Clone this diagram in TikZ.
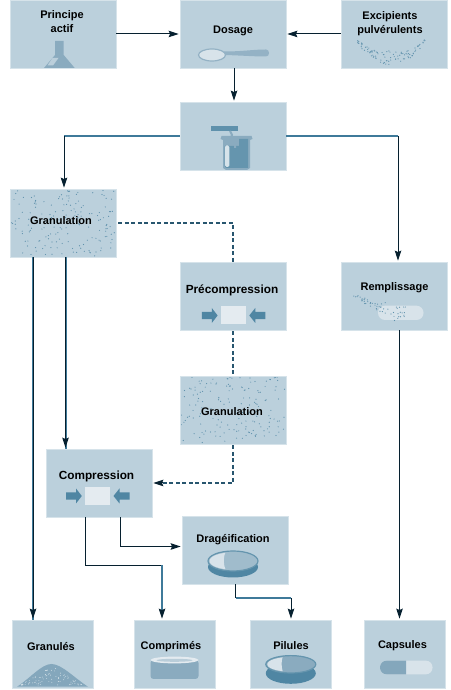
\documentclass[tikz,border=0pt]{standalone}
\usepackage{fontspec}
\setmainfont{Liberation Sans}
\usepackage{xcolor}
\usepackage{tikz}
\usetikzlibrary{arrows.meta, positioning}
\definecolor{boxfill}{HTML}{BBD0DC}
\definecolor{boxedge}{HTML}{D6E3EA}
\definecolor{steel}{HTML}{8AABBF}
\definecolor{steeldark}{HTML}{4F86A3}
\definecolor{pipeblue}{HTML}{3F7A9A}
\definecolor{pale}{HTML}{D8E3EA}
\definecolor{inkdark}{HTML}{06202F}
\newcommand{\lift}[3]{\smash{\raisebox{#2}{\makebox[0pt]{\hspace*{#1}\hspace*{#1}\begin{tabular}{@{}c@{}}#3\end{tabular}}}}}
\newcommand{\widetext}{\fontsize{11.8}{14}\selectfont}
\newcommand{\pressicon}[3]{
  \begin{scope}[shift={(#1.center)}, shift={(#2,#3)}]
    \fill[pale!70!white] (-12.5,-9) rectangle (12.5,9);
    \fill[steeldark] (-31.5,-3.7) -- (-21.5,-3.7) -- (-21.5,-7.5) -- (-15.7,0) -- (-21.5,7.5) -- (-21.5,3.7) -- (-31.5,3.7) -- cycle;
    \fill[steeldark] (32,-3.7) -- (22,-3.7) -- (22,-7.5) -- (16,0) -- (22,7.5) -- (22,3.7) -- (32,3.7) -- cycle;
  \end{scope}
}
\newcommand{\pillicon}[6]{
  \begin{scope}[shift={(#1.center)}, shift={(#2,#3)}]
    \fill[steeldark] (0,-#4) ellipse (25 and 10.5);
    \fill[#5, draw=steeldark!80!boxfill, line width=1.2] (0,0) ellipse (25 and #6);
    \begin{scope}
      \clip (0,0) ellipse (23.5 and #6-1.3);
      \fill[pale] (-26,-10) -- (-7,-10) .. controls (-10,-3) and (-10,4) .. (-7,10) -- (-26,10) -- cycle;
    \end{scope}
  \end{scope}
}
\tikzstyle{stage} = [rectangle, minimum width=106pt, minimum height=68pt, inner sep=0pt, text centered, draw=boxedge, line width=0.8pt, fill=boxfill, font=\fontsize{11}{14}\selectfont\bfseries]
\tikzstyle{product} = [stage, minimum width=81pt]
\tikzstyle{speckle} = [path picture={
  \foreach \i in {1,...,160}{
    \pgfmathsetmacro\dotx{rnd*104-52}
    \pgfmathsetmacro\doty{rnd*66-33}
    \fill[steeldark!85!boxfill] ([shift={(\dotx,\doty)}]path picture bounding box.center) circle (0.6);
  }}]
\tikzstyle{arrow} = [draw=inkdark, line width=1pt, -{Stealth[length=10pt,width=6.5pt,inset=1.5pt]}, shorten >=1pt]
\tikzstyle{plain} = [draw=inkdark, line width=1pt]
\tikzstyle{shadow} = [preaction={draw=pipeblue, line width=2pt, -, shorten >=0pt}]
\tikzstyle{pipe} = [draw=pipeblue, line width=1.8pt]
\tikzstyle{dashflow} = [draw=pipeblue!60!inkdark, line width=1.1pt, dash pattern=on 4pt off 2.5pt]
\pgfmathsetseed{4217}
\begin{document}
\begin{tikzpicture}[x=1pt, y=1pt]
\useasboundingbox (0,0) rectangle (450,690);

\node (dosage) [stage] at (233,656) {\lift{0pt}{1pt}{Dosage}};
\node (principe) [stage, left of=dosage, node distance=170pt] {\lift{-1pt}{9pt}{Principe\\actif}};
\node (excipients) [stage, right of=dosage, node distance=161pt] {\lift{-4pt}{7.5pt}{Excipients\\pulvérulents}};
\node (melange) [stage, below of=dosage, node distance=102pt] {};
\node (granulation) [stage, speckle, below of=melange, node distance=87pt, xshift=-170pt] {\lift{-2pt}{-1pt}{Granulation}};
\node (precompression) [stage, below of=melange, node distance=160pt] {\lift{-1pt}{3pt}{\widetext Précompression}};
\node (remplissage) [stage, right of=precompression, node distance=161.5pt] {\lift{0pt}{6pt}{Remplissage}};
\node (granulationb) [stage, speckle, below of=precompression, node distance=114pt] {\lift{-1pt}{-5pt}{Granulation}};
\node (compression) [stage, below of=granulationb, node distance=73pt, xshift=-134pt] {\lift{-2.5pt}{4pt}{\widetext Compression}};
\node (drageification) [stage, below of=granulationb, node distance=140pt, xshift=2pt] {\lift{-2pt}{8pt}{Dragéification}};
\node (granules) [product, below of=compression, node distance=171pt, xshift=-46.5pt] {\lift{-1.5pt}{4pt}{Granulés}};
\node (comprimes) [product, right of=granules, node distance=122pt] {\lift{-3.5pt}{5pt}{Comprimés}};
\node (pilules) [product, right of=comprimes, node distance=116.5pt] {\lift{0pt}{5pt}{Pilules}};
\node (capsules) [product, right of=pilules, node distance=113.5pt] {\lift{-2pt}{6pt}{Capsules}};

% flask
\begin{scope}[shift={(principe.center)}]
  \fill[steel] (-8,-7) -- (0.7,-7) -- (0.7,-21) -- (11.7,-34) -- (-19,-34) -- (-8,-21) -- cycle;
  \fill[steel!35!boxedge] (-10.5,-24) -- (-4.5,-24) -- (-10,-31.5) -- (-15.5,-31.5) -- cycle;
\end{scope}
% spoon
\begin{scope}[shift={(dosage.center)}]
  \fill[steel!80!boxfill] (-9,-17.5) .. controls (10,-17.5) and (20,-15.5) .. (33,-15.5) .. controls (37,-15.5) and (37,-22.5) .. (33,-22.5) .. controls (20,-22.5) and (10,-21.5) .. (-9,-21);
  \fill[pale, draw=steel!80!boxfill, line width=1.2pt] (-21,-21) ellipse (13.5 and 6);
\end{scope}
% powder
\begin{scope}[shift={(excipients.center)}]
  \foreach \i in {1,...,95}{
    \pgfmathsetmacro\tval{2*rnd-1}
    \pgfmathsetmacro\dotx{34*\tval-3}
    \pgfmathsetmacro\doty{-31+22*\tval*\tval+(rnd*15)*(1-0.7*abs(\tval))}
    \fill[steeldark!85!boxfill] (\dotx,\doty) circle (0.6);
  }
\end{scope}
% beaker
\begin{scope}[shift={(melange.center)}]
  \fill[steeldark!85!boxfill] (-22.5,10) rectangle (4.5,5);
  \fill[steel] (-11.5,0) -- (18.5,0) -- (19.5,-3) -- (17,-4) -- (17,-32) -- (14,-34) -- (-7,-34) -- (-10,-32) -- (-10,-4) -- (-12.5,-3) -- cycle;
  \fill[steeldark!80!boxfill] (-1,-10) -- (6,-10) -- (6,-3) -- (15,-3) -- (15,-32) -- (-7,-32) -- (-8.5,-30) -- (-8.5,-10) -- cycle;
  \fill[boxedge, rounded corners=1.5pt] (-8,-9.5) rectangle (-3.7,-31);
  \draw[steel, line width=2pt] (-3,5) -- (-1,1) -- (-2.5,-3) -- (2,-8) -- (2,-12);
\end{scope}
% press
\pressicon{precompression}{0.3}{-19.5}
\pressicon{compression}{-1.5}{-13}
% capsule being filled
\begin{scope}[shift={(remplissage.center)}]
  \fill[pale, rounded corners=7pt] (-16.5,-24) rectangle (29,-9.7);
  \foreach \i in {1,...,55}{
    \pgfmathsetmacro\tval{rnd}
    \pgfmathsetmacro\dotx{-43.5+55*\tval}
    \pgfmathsetmacro\doty{1-22*\tval+(rnd*2-1)*(1+9*\tval)}
    \fill[steeldark!85!boxfill] (\dotx,\doty) circle (0.6);
  }
\end{scope}
% coated tablet
\pillicon{drageification}{-2}{-11}{6}{steel!55!boxfill}{10}
\pillicon{pilules}{-0.2}{-10.3}{9}{steel}{8.7}
% heap
\begin{scope}[shift={(granules.center)}]
  \fill[steel!90!steeldark] (-35.5,-32.7) .. controls (-22,-24) and (-11,-10) .. (-1,-10) .. controls (9,-10) and (22,-24) .. (35.5,-32.7) -- cycle;
  \foreach \i in {1,...,85}{
    \pgfmathsetmacro\tval{2*rnd-1}
    \pgfmathsetmacro\doty{-31+rnd*19*(1-abs(\tval))}
    \pgfmathsetmacro\dotx{31*\tval-1}
    \fill[boxedge] (\dotx,\doty) circle (0.45);
  }
\end{scope}
% tablet
\begin{scope}[shift={(comprimes.center)}]
  \fill[steel, rounded corners=3pt] (-24,-6) rectangle (24,-25);
  \fill[pale!70!white] (0,-6) ellipse (24 and 3.4);
  \fill[steel!40!pale] (0,-6.3) ellipse (18 and 1.5);
\end{scope}
% capsule
\begin{scope}[shift={(capsules.center)}]
  \fill[pale, rounded corners=6.5pt] (-24.5,-20.3) rectangle (28,-6.7);
  \begin{scope}
    \clip (-25,-21) rectangle (1.5,-6);
    \fill[steel!90!steeldark, rounded corners=6.5pt] (-24.5,-20.3) rectangle (28,-6.7);
  \end{scope}
\end{scope}

\coordinate (melangeL) at ([xshift=1pt]granulation.north |- melange.west);
\coordinate (melangeR) at ([xshift=3.5pt]remplissage.north |- melange.east);
\coordinate (granDash) at (precompression.north |- granulation.east);
\coordinate (granbDash) at (granulationb.south |- compression.east);
\coordinate (compStart) at ([xshift=-13.5pt]compression.south);
\coordinate (compTurn) at ([yshift=-48pt]compStart);
\coordinate (comprEnd) at ([xshift=-12.5pt]comprimes.north);
\coordinate (comprTop) at (comprEnd |- compTurn);
\coordinate (dragStart) at ([xshift=0.5pt]drageification.south);
\coordinate (dragA) at ([yshift=-13.5pt]dragStart);
\coordinate (dragB) at (pilules.north |- dragA);

\draw [arrow] (principe.east) -- (dosage.west);
\draw [arrow] (excipients.west) -- (dosage.east);
\draw [arrow] ([xshift=1pt]dosage.south) -- ([xshift=1pt]melange.north);
\draw [pipe] (melange.west) -- (melangeL);
\draw [arrow] (melangeL) -- ([xshift=1pt]granulation.north);
\draw [pipe] (melange.east) -- (melangeR);
\draw [arrow] (melangeR) -- ([xshift=3.5pt]remplissage.north);
\draw [dashflow] ([xshift=2pt]granulation.east) -- (granDash) -- (precompression.north);
\draw [dashflow] ([yshift=-1pt]precompression.south) -- (granulationb.north);
\draw [dashflow] ([yshift=-1pt]granulationb.south) -- (granbDash) -- ([xshift=10pt]compression.east);
\draw [arrow] ([xshift=10pt]compression.east) -- (compression.east);
\draw [arrow, shadow] ([xshift=-30pt]granulation.south) -- ([xshift=-19.5pt]granules.north);
\draw [arrow, shadow] ([xshift=2.5pt]granulation.south) -- ([xshift=-33.5pt]compression.north);
\draw [plain] (compStart) -- (compTurn) -- (comprTop);
\draw [pipe] (comprTop) -- ([yshift=4pt]comprEnd);
\draw [arrow] ([yshift=8pt]comprEnd) -- (comprEnd);
\draw [arrow] ([xshift=21pt]compression.south) |- ([yshift=3.5pt]drageification.west);
\draw [plain] (dragStart) -- (dragA);
\draw [pipe] (dragA) -- (dragB);
\draw [arrow] (dragB) -- (pilules.north);
\draw [arrow] ([xshift=5pt]remplissage.south) -- ([xshift=-5pt]capsules.north);

\end{tikzpicture}
\end{document}
